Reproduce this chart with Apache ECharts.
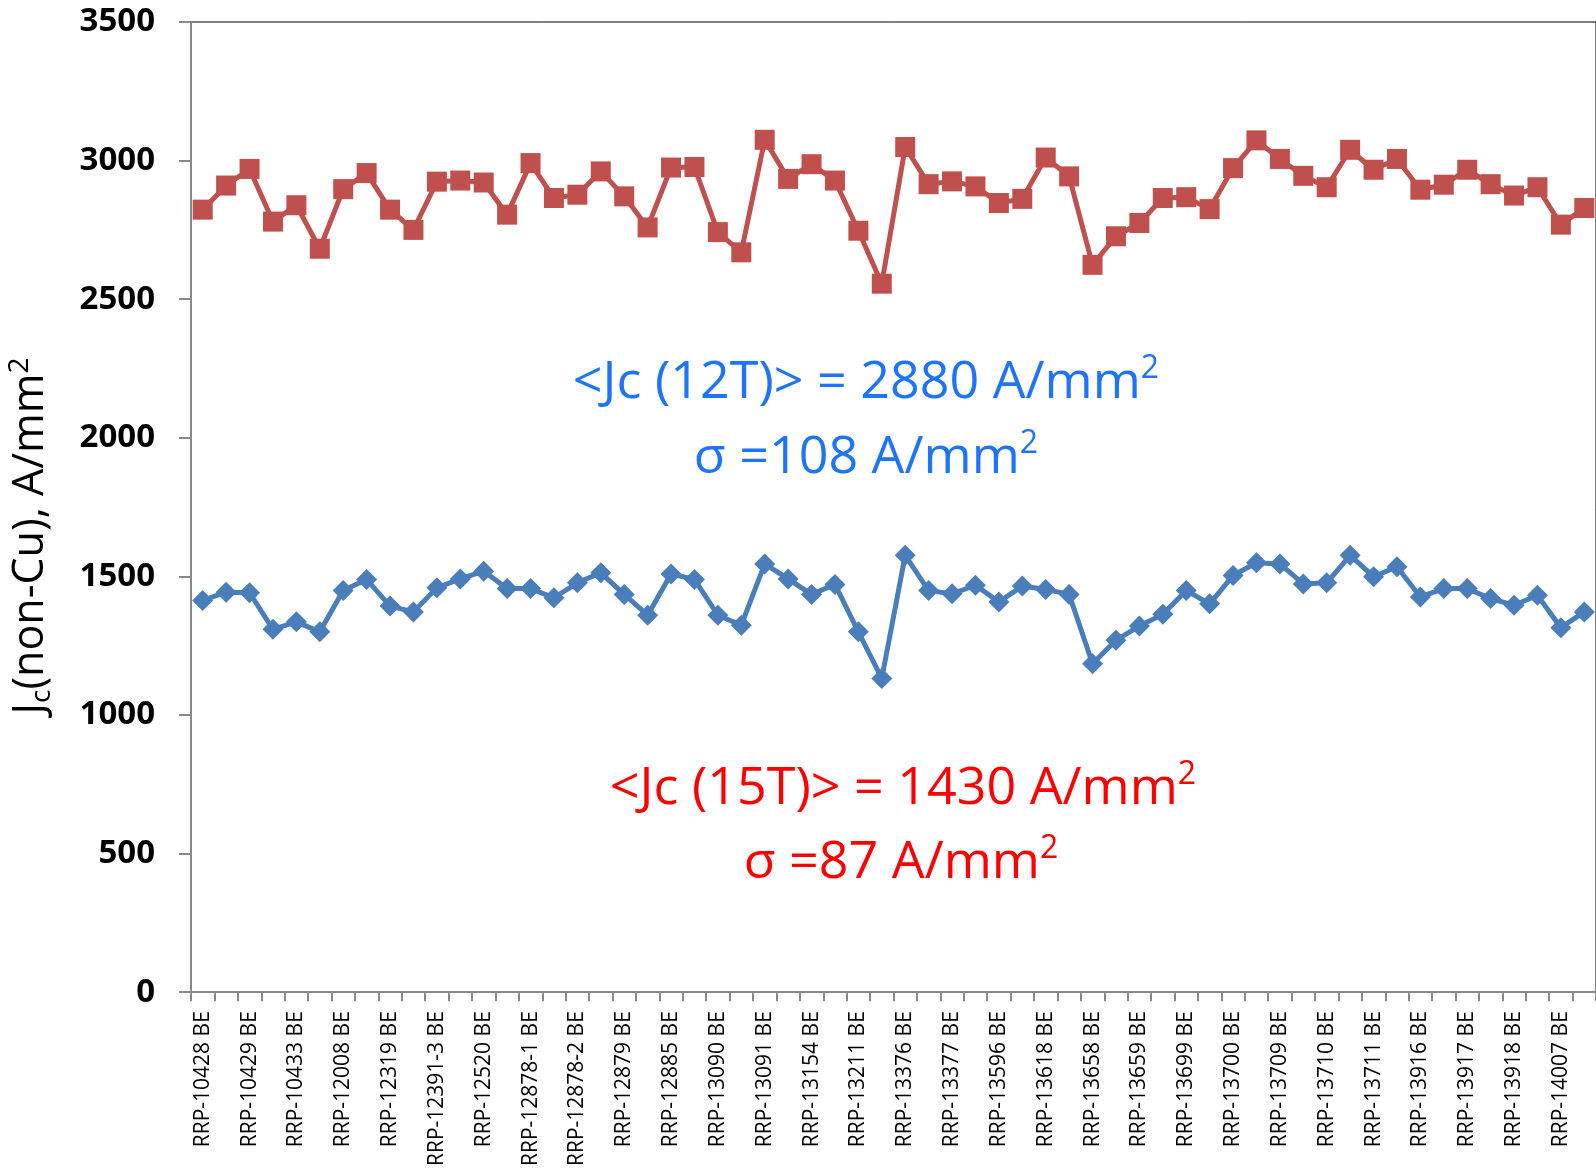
<!DOCTYPE html>
<html><head><meta charset="utf-8">
<script src="https://cdn.jsdelivr.net/npm/echarts@6/dist/echarts.min.js"></script>
<style>html,body{margin:0;padding:0;background:#fff}#c{width:1596px;height:1169px}</style>
</head><body><div id="c"></div>
<script>
// Tick labels shown on every other category
const tickLabels = ['RRP-10428 BE','RRP-10429 BE','RRP-10433 BE','RRP-12008 BE','RRP-12319 BE','RRP-12391-3 BE','RRP-12520 BE','RRP-12878-1 BE','RRP-12878-2 BE','RRP-12879 BE','RRP-12885 BE','RRP-13090 BE','RRP-13091 BE','RRP-13154 BE','RRP-13211 BE','RRP-13376 BE','RRP-13377 BE','RRP-13596 BE','RRP-13618 BE','RRP-13658 BE','RRP-13659 BE','RRP-13699 BE','RRP-13700 BE','RRP-13709 BE','RRP-13710 BE','RRP-13711 BE','RRP-13916 BE','RRP-13917 BE','RRP-13918 BE','RRP-14007 BE'];
// Jc at 12 T (red squares)
const jc12T = [2823,2910,2970,2780,2839,2682,2897,2955,2823,2750,2924,2928,2921,2805,2991,2865,2877,2961,2871,2759,2975,2977,2742,2669,3075,2934,2987,2928,2747,2556,3049,2915,2925,2907,2847,2862,3011,2943,2624,2727,2775,2865,2868,2825,2973,3073,3006,2945,2904,3039,2967,3006,2895,2913,2967,2915,2874,2904,2769,2829];
// Jc at 15 T (blue diamonds)
const jc15T = [1413,1443,1441,1309,1336,1300,1449,1489,1393,1372,1459,1491,1519,1456,1456,1423,1477,1513,1435,1360,1509,1489,1360,1324,1545,1491,1435,1471,1300,1132,1576,1449,1437,1468,1408,1465,1453,1435,1185,1270,1321,1363,1449,1401,1503,1549,1545,1473,1477,1576,1499,1535,1426,1456,1456,1420,1396,1432,1315,1372];
const yMin = 0, yMax = 3500, yStep = 500;
const note12 = ['<Jc (12T)> = 2880 A/mm', 'σ =108 A/mm'];
const note15 = ['<Jc (15T)> = 1430 A/mm', 'σ =87 A/mm'];

const categories = [];
tickLabels.forEach(l => { categories.push(l); categories.push(''); });

const chart = echarts.init(document.getElementById('c'), null, {renderer: 'canvas'});
const F = "'Open Sans', 'Liberation Sans', sans-serif";
const annRich = (color) => ({
  m: {fontSize: 52, fontFamily: F, fill: color, color: color, lineHeight: 60},
  s: {fontSize: 32, fontFamily: F, fill: color, color: color, lineHeight: 36, verticalAlign: 'top'}
});
function ann(text, x, y, color) {
  return {
    type: 'text', x: x, y: y, z: 100,
    style: {
      text: '{m|' + text + '}{s|2}', rich: annRich(color), fill: color,
      align: 'center', verticalAlign: 'middle', textAlign: 'center', textVerticalAlign: 'middle'
    }
  };
}
chart.setOption({
  animation: false,
  backgroundColor: '#fff',
  grid: {left: 191, top: 22, right: -4, bottom: 176, show: true, borderColor: '#000', borderWidth: 1, backgroundColor: 'transparent'},
  xAxis: {
    type: 'category', data: categories, boundaryGap: true,
    axisLine: {lineStyle: {color: '#898989', width: 2}},
    axisTick: {show: true, interval: 0, length: 9, lineStyle: {color: '#898989', width: 2}},
    axisLabel: {interval: 0, rotate: 90, margin: 19, fontSize: 21, fontFamily: F, color: '#000'},
    splitLine: {show: false}
  },
  yAxis: {
    type: 'value', min: yMin, max: yMax, interval: yStep,
    axisLine: {show: true, lineStyle: {color: '#898989', width: 2}},
    axisTick: {show: true, length: 12, lineStyle: {color: '#898989', width: 2}},
    axisLabel: {margin: 36, fontSize: 33, fontWeight: 'bold', fontFamily: F, color: '#000', formatter: v => String(v)},
    splitLine: {show: false}
  },
  graphic: [
    {
      type: 'text', x: 31, y: 536, rotation: Math.PI / 2, z: 100,
      style: {
        text: '{m|J}{c|c}{m|(non-Cu), A/mm}{s|2}',
        rich: {
          m: {fontSize: 43, fontFamily: F, fill: '#000', lineHeight: 50},
          c: {fontSize: 28, fontFamily: F, fill: '#000', lineHeight: 8, verticalAlign: 'bottom'},
          s: {fontSize: 28, fontFamily: F, fill: '#000', lineHeight: 32, verticalAlign: 'top'}
        },
        align: 'center', verticalAlign: 'middle', textAlign: 'center', textVerticalAlign: 'middle'
      }
    },
    ann(note12[0], 866, 383, '#1E74FF'),
    ann(note12[1], 866, 458, '#1E74FF'),
    ann(note15[0], 903, 789, '#FF0000'),
    ann(note15[1], 901, 863, '#FF0000')
  ],
  series: [
    {
      name: 'Jc 15T', type: 'line', data: jc15T, symbol: 'diamond', symbolSize: 21,
      itemStyle: {color: '#4A7EBB'}, lineStyle: {color: '#4A7EBB', width: 5}
    },
    {
      name: 'Jc 12T', type: 'line', data: jc12T, symbol: 'rect', symbolSize: 20,
      itemStyle: {color: '#C0504D'}, lineStyle: {color: '#C0504D', width: 5}
    }
  ]
});
</script>
</body></html>
